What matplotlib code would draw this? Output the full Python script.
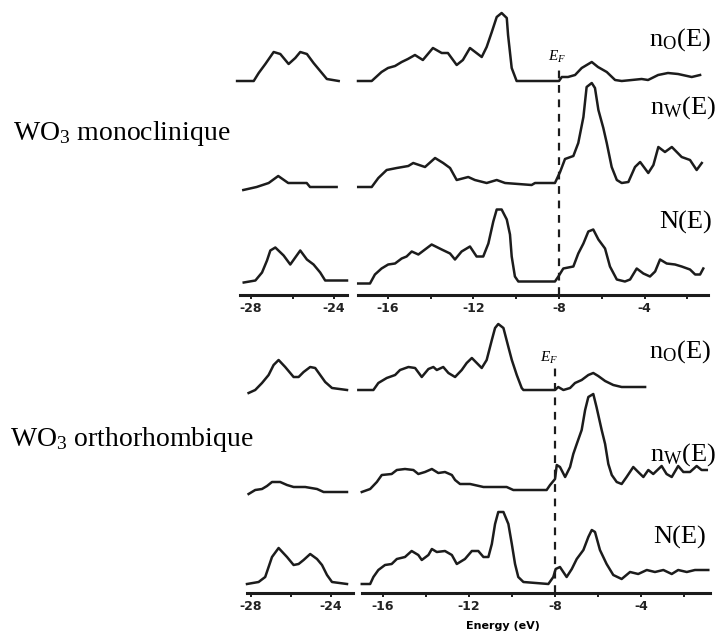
import matplotlib.pyplot as plt

plt.rcParams['axes.unicode_minus'] = False
plt.rcParams['mathtext.fontset'] = 'custom'
plt.rcParams['mathtext.rm'] = 'Liberation Serif'
plt.rcParams['mathtext.it'] = 'Liberation Serif:italic'

# ---- WO3 monoclinique: partial DOS (O, W) and total DOS, arbitrary units ----
mono_O_lo_E = [-28.67, -27.87, -27.63, -27.31, -26.91, -26.59, -26.19, -25.87, -25.63, -25.31, -24.99, -24.67, -24.35, -23.78]
mono_O_lo = [0, 0, 8, 17, 29, 27, 17, 23, 29, 27, 18, 10, 2, 0]
mono_O_hi_E = [-17.39, -16.75, -16.29, -15.99, -15.66, -15.35, -15.06, -14.73, -14.36, -13.89, -13.48, -13.19, -12.78, -12.49,
               -12.16, -11.61, -11.38, -11.14, -10.91, -10.68, -10.44, -10.38, -10.21, -9.98, -8.0, -7.87, -7.58, -7.25,
               -6.94, -6.47, -6.18, -5.77, -5.38, -5.07, -4.60, -4.14, -3.84, -3.37, -2.91, -2.44, -1.80, -1.41]
mono_O_hi = [0, 0, 9, 13, 15, 19, 22, 26, 21, 33, 28, 28, 16, 21, 33, 24, 34, 49, 64, 68, 63, 46, 13, 0, 0, 4, 4, 6,
             13, 19, 14, 9, 1, 0, 1, 2, 1, 6, 8, 7, 4, 6]

mono_W_lo_E = [-28.37, -27.73, -27.15, -26.69, -26.21, -25.32, -25.16, -23.88]
mono_W_lo = [-3, 0, 4, 11, 4, 4, 0, 0]
mono_W_hi_E = [-17.38, -16.75, -16.44, -16.05, -15.58, -15.04, -14.81, -14.26, -13.79, -13.41, -13.09, -12.78, -12.24, -11.93,
               -11.38, -10.91, -10.52, -9.28, -9.12, -8.19, -7.95, -7.72, -7.33, -7.10, -6.86, -6.71, -6.47, -6.32,
               -6.16, -5.93, -5.77, -5.54, -5.30, -5.07, -4.76, -4.45, -4.21, -3.83, -3.59, -3.36, -3.05, -2.73,
               -2.27, -1.88, -1.57, -1.33]
mono_W_hi = [0, 0, 9, 17, 19, 21, 24, 20, 29, 24, 19, 7, 10, 7, 4, 7, 4, 2, 4, 4, 15, 28, 31, 44, 70, 100, 104, 99,
             77, 59, 44, 20, 7, 4, 5, 20, 25, 14, 22, 40, 35, 40, 30, 27, 17, 24]

mono_N_lo_E = [-28.35, -27.79, -27.47, -27.23, -27.07, -26.83, -26.43, -26.11, -25.63, -25.31, -24.99, -24.67, -24.43, -23.38]
mono_N_lo = [0, 2, 10, 22, 32, 35, 27, 18, 32, 23, 18, 10, 2, 2]
mono_N_hi_E = [-17.38, -16.83, -16.60, -16.29, -15.98, -15.66, -15.35, -15.12, -14.88, -14.57, -13.95, -13.48, -13.09, -12.86,
               -12.55, -12.16, -11.85, -11.54, -11.30, -11.07, -10.91, -10.68, -10.44, -10.29, -10.21, -10.06, -9.90, -8.19,
               -8.03, -7.80, -7.33, -7.10, -6.86, -6.63, -6.40, -6.16, -5.85, -5.62, -5.30, -4.92, -4.68, -4.37,
               -4.06, -3.75, -3.51, -3.28, -2.97, -2.58, -2.27, -1.88, -1.64, -1.41, -1.26]
mono_N_hi = [-1, -1, 8, 14, 18, 19, 24, 26, 31, 28, 38, 33, 29, 23, 31, 36, 26, 26, 39, 61, 73, 73, 63, 48, 26, 6, 1, 1,
             6, 14, 16, 29, 39, 51, 53, 43, 34, 16, 3, 1, 3, 14, 9, 6, 11, 23, 19, 18, 16, 13, 8, 8, 14]

# ---- WO3 orthorhombique ----
ortho_O_lo_E = [-28.12, -27.79, -27.45, -27.12, -26.87, -26.62, -26.29, -25.87, -25.62, -25.37, -25.04, -24.79, -24.54, -24.29, -23.95, -23.2]
ortho_O_lo = [-3, 0, 7, 15, 25, 30, 23, 13, 13, 18, 23, 22, 15, 8, 2, 0]
ortho_O_hi_E = [-17.15, -16.45, -16.22, -15.83, -15.44, -15.21, -14.82, -14.51, -14.20, -13.89, -13.66, -13.50, -13.20, -12.96,
                -12.65, -12.34, -12.11, -11.87, -11.64, -11.41, -11.18, -10.94, -10.79, -10.64, -10.40, -10.17, -10.01, -9.78,
                -9.55, -9.47, -8.0, -7.85, -7.61, -7.30, -7.07, -6.76, -6.45, -6.22, -5.99, -5.67, -5.29, -4.90, -4.43, -3.81]
ortho_O_hi = [0, 0, 7, 12, 15, 20, 23, 22, 13, 21, 23, 20, 23, 17, 13, 20, 27, 32, 27, 22, 30, 50, 62, 66, 62, 43, 30, 15,
              2, 0, 0, 3, 0, 2, 7, 10, 15, 17, 14, 9, 5, 3, 3, 3]

ortho_W_lo_E = [-28.12, -27.79, -27.45, -27.2, -26.95, -26.54, -26.2, -25.87, -25.29, -24.7, -24.37, -23.2]
ortho_W_lo = [-2, 2, 3, 6, 10, 10, 7, 5, 5, 3, 0, 0]
ortho_W_hi_E = [-16.99, -16.60, -16.29, -16.06, -15.60, -15.36, -14.98, -14.59, -14.36, -14.05, -13.73, -13.43, -13.12, -12.80,
                -12.65, -12.42, -11.95, -11.33, -10.71, -10.25, -9.94, -8.70, -8.39, -8.23, -8.00, -7.92, -7.77, -7.53,
                -7.30, -7.15, -6.99, -6.76, -6.60, -6.45, -6.22, -6.07, -5.83, -5.67, -5.52, -5.36, -5.13, -4.90,
                -4.67, -4.36, -4.13, -3.89, -3.66, -3.43, -3.04, -2.81, -2.57, -2.27, -2.03, -1.72, -1.41, -1.18, -0.94]
ortho_W_hi = [0, 3, 10, 17, 18, 22, 23, 22, 18, 20, 23, 19, 20, 17, 12, 8, 8, 5, 5, 5, 2, 2, 2, 7, 13, 27, 25, 15,
              25, 38, 48, 62, 82, 95, 98, 85, 62, 48, 28, 17, 10, 8, 15, 25, 20, 15, 22, 18, 26, 18, 15, 26, 20, 20,
              26, 22, 22]

ortho_N_lo_E = [-28.2, -27.62, -27.29, -27.12, -26.95, -26.62, -26.2, -25.87, -25.62, -25.37, -25.04, -24.7, -24.45, -24.2, -23.95, -23.2]
ortho_N_lo = [-2, 0, 5, 15, 25, 34, 25, 17, 18, 22, 28, 23, 17, 7, 0, -2]
ortho_N_hi_E = [-16.99, -16.60, -16.45, -16.22, -15.91, -15.60, -15.36, -14.98, -14.67, -14.36, -14.20, -13.89, -13.73, -13.50,
                -13.12, -12.80, -12.57, -12.19, -11.87, -11.57, -11.33, -11.10, -10.94, -10.79, -10.64, -10.40, -10.17, -10.01,
                -9.86, -9.71, -9.47, -8.31, -8.08, -7.97, -7.77, -7.46, -7.22, -6.99, -6.68, -6.45, -6.29, -6.14,
                -5.91, -5.60, -5.29, -4.90, -4.51, -4.13, -3.73, -3.35, -2.96, -2.57, -2.27, -1.87, -1.49, -0.87]
ortho_N_hi = [-2, -2, 5, 12, 17, 18, 23, 25, 31, 27, 22, 27, 33, 30, 31, 27, 18, 23, 31, 31, 25, 25, 38, 58, 70, 70, 58, 38,
              18, 5, 0, -2, 5, 13, 15, 5, 13, 23, 32, 45, 52, 50, 32, 18, 7, 3, 10, 8, 12, 10, 12, 8, 12, 10, 12, 12]

E_FERMI = -8.0
curve_names = [r'n$_{\rm O}$(E)', r'n$_{\rm W}$(E)', 'N(E)']

LINE = '#1c1c1c'
W, H = 721, 633


def px_axes(fig, x0, x1, y0, y1):
    # axes placed by pixel box (top-left origin)
    return fig.add_axes([x0 / W, 1 - y1 / H, (x1 - x0) / W, (y1 - y0) / H])


def style_axis(ax, ticks, labels, ymax):
    for side in ('top', 'right', 'left'):
        ax.spines[side].set_visible(False)
    ax.spines['bottom'].set_linewidth(2.2)
    ax.spines['bottom'].set_color(LINE)
    ax.set_yticks([])
    ax.set_ylim(0, ymax)
    ax.set_xticks(ticks)
    ax.set_xticklabels(labels, fontsize=9, fontweight='bold', color='#222222')
    ax.tick_params(axis='x', direction='out', length=3, width=1.4, color=LINE, pad=2)
    ax.patch.set_alpha(0)


def draw_panel(fig, box_lo, box_hi, xlim_lo, xlim_hi, ymax, offsets, lo, hi,
               name_pos, ef_pos, title, title_xy):
    ax_lo = px_axes(fig, *box_lo)
    ax_hi = px_axes(fig, *box_hi)
    ax_lo.set_xlim(*xlim_lo)
    ax_hi.set_xlim(*xlim_hi)
    style_axis(ax_lo, [-28, -26, -24], ['-28', '', '-24'], ymax)
    style_axis(ax_hi, [-16, -14, -12, -10, -8, -6, -4, -2],
               ['-16', '', '-12', '', '-8', '', '-4', ''], ymax)

    for off, (e, d) in zip(offsets, lo):
        ax_lo.plot(e, [off + v for v in d], color=LINE, lw=1.8, clip_on=False)
    for off, (e, d) in zip(offsets, hi):
        ax_hi.plot(e, [off + v for v in d], color=LINE, lw=1.8, clip_on=False)

    for name, (xe, yv) in zip(curve_names, name_pos):
        ax_hi.text(xe, yv, name, fontsize=19, family='Liberation Serif',
                   ha='center', va='center', clip_on=False)

    # Fermi level
    ax_hi.plot([E_FERMI, E_FERMI], [0, ef_pos[1]], color=LINE, lw=1.6,
               ls=(0, (3.5, 3)))
    ax_hi.text(ef_pos[0], ef_pos[1] + 2, r'$E_F$', fontsize=11,
               ha='center', va='bottom')

    fig.text(title_xy[0] / W, 1 - title_xy[1] / H, title, fontsize=20,
             family='Liberation Serif', ha='left', va='center')
    return ax_lo, ax_hi


fig = plt.figure(figsize=(W / 100, H / 100), dpi=100)

draw_panel(fig,
           (240, 347, 0, 295), (358, 708, 0, 295),
           (-28.53, -23.38), (-17.39, -1.04), 295,
           [214, 108, 12.5],
           [(mono_O_lo_E, mono_O_lo), (mono_W_lo_E, mono_W_lo), (mono_N_lo_E, mono_N_lo)],
           [(mono_O_hi_E, mono_O_hi), (mono_W_hi_E, mono_W_hi), (mono_N_hi_E, mono_N_hi)],
           [(-2.35, 255), (-2.2, 187), (-2.07, 73)],
           (-8.1, 228),
           r'WO$_3$ monoclinique', (13, 133))

ax_lo, ax_hi = draw_panel(fig,
           (247, 353, 310, 593), (362, 710, 310, 593),
           (-28.2, -22.9), (-16.98, -0.79), 283,
           [203, 101, 11],
           [(ortho_O_lo_E, ortho_O_lo), (ortho_W_lo_E, ortho_W_lo), (ortho_N_lo_E, ortho_N_lo)],
           [(ortho_O_hi_E, ortho_O_hi), (ortho_W_hi_E, ortho_W_hi), (ortho_N_hi_E, ortho_N_hi)],
           [(-2.19, 241), (-2.05, 138), (-2.19, 56)],
           (-8.3, 225),
           r'WO$_3$ orthorhombique', (10, 440))

ax_hi.set_xlabel('Energy (eV)', fontsize=8, fontweight='bold')
ax_hi.xaxis.set_label_coords(0.405, -0.1)

fig.savefig('out.png', dpi=100)
